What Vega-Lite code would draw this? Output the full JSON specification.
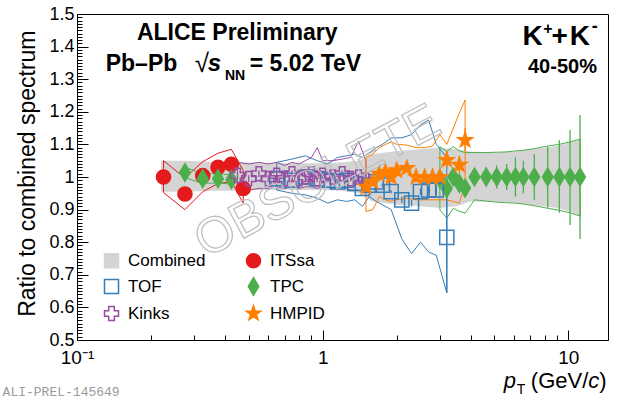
{
  "$schema": "https://vega.github.io/schema/vega-lite/v6.json",
  "width": 531,
  "height": 326,
  "autosize": "none",
  "padding": {"left": 77, "top": 14, "right": 15, "bottom": 63},
  "background": "white",
  "data": {"values": [{}]},
  "datasets": {
    "band": [
      {"pt": 0.22, "lo": 0.955, "hi": 1.05},
      {"pt": 0.27, "lo": 0.955, "hi": 1.05},
      {"pt": 0.35, "lo": 0.958, "hi": 1.047},
      {"pt": 0.45, "lo": 0.958, "hi": 1.045},
      {"pt": 0.6, "lo": 0.96, "hi": 1.043},
      {"pt": 0.8, "lo": 0.96, "hi": 1.042},
      {"pt": 1.0, "lo": 0.96, "hi": 1.042},
      {"pt": 1.2, "lo": 0.958, "hi": 1.045},
      {"pt": 1.4, "lo": 0.95, "hi": 1.05},
      {"pt": 1.6, "lo": 0.925, "hi": 1.07},
      {"pt": 2.0, "lo": 0.915, "hi": 1.08},
      {"pt": 2.5, "lo": 0.91, "hi": 1.085},
      {"pt": 3.0, "lo": 0.905, "hi": 1.09},
      {"pt": 3.5, "lo": 0.91, "hi": 1.085},
      {"pt": 4.0, "lo": 0.925, "hi": 1.078},
      {"pt": 5.0, "lo": 0.925, "hi": 1.075},
      {"pt": 6.0, "lo": 0.92, "hi": 1.078},
      {"pt": 7.0, "lo": 0.915, "hi": 1.085},
      {"pt": 8.0, "lo": 0.91, "hi": 1.09},
      {"pt": 9.0, "lo": 0.905, "hi": 1.095},
      {"pt": 10.0, "lo": 0.895, "hi": 1.105},
      {"pt": 11.2, "lo": 0.88, "hi": 1.116}
    ],
    "meas": [
      {"det": "ITSsa", "seg": "its", "pt": 0.225, "r": 1.0, "slo": 0.952, "shi": 1.05, "elo": 0.994, "ehi": 1.006},
      {"det": "ITSsa", "seg": "its", "pt": 0.275, "r": 0.948, "slo": 0.9, "shi": 0.997, "elo": 0.942, "ehi": 0.954},
      {"det": "ITSsa", "seg": "its", "pt": 0.325, "r": 1.004, "slo": 0.955, "shi": 1.047, "elo": 0.998, "ehi": 1.01},
      {"det": "ITSsa", "seg": "its", "pt": 0.375, "r": 1.03, "slo": 0.98, "shi": 1.073, "elo": 1.024, "ehi": 1.036},
      {"det": "ITSsa", "seg": "its", "pt": 0.425, "r": 1.039, "slo": 0.986, "shi": 1.085, "elo": 1.033, "ehi": 1.045},
      {"det": "ITSsa", "seg": "its", "pt": 0.475, "r": 0.965, "slo": 0.92, "shi": 1.02, "elo": 0.958, "ehi": 0.972},
      {"det": "TPC", "seg": "tpclo", "pt": 0.275, "r": 1.014, "slo": 0.998, "shi": 1.03, "elo": 1.01, "ehi": 1.018},
      {"det": "TPC", "seg": "tpclo", "pt": 0.325, "r": 0.995, "slo": 0.98, "shi": 1.01, "elo": 0.991, "ehi": 0.999},
      {"det": "TPC", "seg": "tpclo", "pt": 0.375, "r": 0.995, "slo": 0.982, "shi": 1.01, "elo": 0.991, "ehi": 0.999},
      {"det": "TPC", "seg": "tpclo", "pt": 0.425, "r": 0.992, "slo": 0.978, "shi": 1.006, "elo": 0.988, "ehi": 0.996},
      {"det": "TPC", "seg": "tpchi", "pt": 3.0, "r": 0.995, "slo": 0.899, "shi": 1.093, "elo": 0.98, "ehi": 1.01},
      {"det": "TPC", "seg": "tpchi", "pt": 3.2, "r": 0.965, "slo": 0.874, "shi": 1.078, "elo": 0.95, "ehi": 0.98},
      {"det": "TPC", "seg": "tpchi", "pt": 3.4, "r": 1.0, "slo": 0.904, "shi": 1.093, "elo": 0.985, "ehi": 1.015},
      {"det": "TPC", "seg": "tpchi", "pt": 3.6, "r": 0.98, "slo": 0.895, "shi": 1.08, "elo": 0.965, "ehi": 0.995},
      {"det": "TPC", "seg": "tpchi", "pt": 3.8, "r": 0.966, "slo": 0.889, "shi": 1.075, "elo": 0.95, "ehi": 0.982},
      {"det": "TPC", "seg": "tpchi", "pt": 4.15, "r": 1.0, "slo": 0.93, "shi": 1.075, "elo": 0.98, "ehi": 1.02},
      {"det": "TPC", "seg": "tpchi", "pt": 4.63, "r": 1.0, "slo": 0.926, "shi": 1.075, "elo": 0.97, "ehi": 1.03},
      {"det": "TPC", "seg": "tpchi", "pt": 5.11, "r": 1.0, "slo": 0.923, "shi": 1.076, "elo": 0.965, "ehi": 1.035},
      {"det": "TPC", "seg": "tpchi", "pt": 5.61, "r": 1.0, "slo": 0.921, "shi": 1.077, "elo": 0.96, "ehi": 1.04},
      {"det": "TPC", "seg": "tpchi", "pt": 6.09, "r": 1.0, "slo": 0.92, "shi": 1.08, "elo": 0.94, "ehi": 1.06},
      {"det": "TPC", "seg": "tpchi", "pt": 6.56, "r": 1.0, "slo": 0.917, "shi": 1.082, "elo": 0.95, "ehi": 1.05},
      {"det": "TPC", "seg": "tpchi", "pt": 7.27, "r": 1.0, "slo": 0.912, "shi": 1.087, "elo": 0.93, "ehi": 1.07},
      {"det": "TPC", "seg": "tpchi", "pt": 8.24, "r": 1.0, "slo": 0.904, "shi": 1.095, "elo": 0.905, "ehi": 1.093},
      {"det": "TPC", "seg": "tpchi", "pt": 9.19, "r": 1.0, "slo": 0.898, "shi": 1.1, "elo": 0.89, "ehi": 1.113},
      {"det": "TPC", "seg": "tpchi", "pt": 10.16, "r": 1.0, "slo": 0.89, "shi": 1.108, "elo": 0.853, "ehi": 1.144},
      {"det": "TPC", "seg": "tpchi", "pt": 11.16, "r": 1.0, "slo": 0.88, "shi": 1.116, "elo": 0.81, "ehi": 1.19},
      {"det": "TOF", "seg": "tof", "pt": 0.65, "r": 0.995, "slo": 0.96, "shi": 1.045, "elo": 0.99, "ehi": 1.0},
      {"det": "TOF", "seg": "tof", "pt": 0.75, "r": 0.99, "slo": 0.95, "shi": 1.055, "elo": 0.985, "ehi": 0.995},
      {"det": "TOF", "seg": "tof", "pt": 0.85, "r": 1.0, "slo": 0.945, "shi": 1.065, "elo": 0.995, "ehi": 1.005},
      {"det": "TOF", "seg": "tof", "pt": 0.95, "r": 0.995, "slo": 0.935, "shi": 1.05, "elo": 0.99, "ehi": 1.0},
      {"det": "TOF", "seg": "tof", "pt": 1.05, "r": 0.99, "slo": 0.92, "shi": 1.04, "elo": 0.985, "ehi": 0.995},
      {"det": "TOF", "seg": "tof", "pt": 1.15, "r": 0.985, "slo": 0.93, "shi": 1.06, "elo": 0.98, "ehi": 0.99},
      {"det": "TOF", "seg": "tof", "pt": 1.25, "r": 0.99, "slo": 0.925, "shi": 1.065, "elo": 0.985, "ehi": 0.995},
      {"det": "TOF", "seg": "tof", "pt": 1.35, "r": 0.98, "slo": 0.93, "shi": 1.07, "elo": 0.975, "ehi": 0.985},
      {"det": "TOF", "seg": "tof", "pt": 1.45, "r": 0.965, "slo": 0.91, "shi": 1.06, "elo": 0.96, "ehi": 0.97},
      {"det": "TOF", "seg": "tof", "pt": 1.55, "r": 0.975, "slo": 0.94, "shi": 1.075, "elo": 0.97, "ehi": 0.98},
      {"det": "TOF", "seg": "tof", "pt": 1.65, "r": 0.985, "slo": 0.925, "shi": 1.09, "elo": 0.98, "ehi": 0.99},
      {"det": "TOF", "seg": "tof", "pt": 1.75, "r": 0.975, "slo": 0.915, "shi": 1.1, "elo": 0.97, "ehi": 0.98},
      {"det": "TOF", "seg": "tof", "pt": 1.9, "r": 0.955, "slo": 0.9, "shi": 1.12, "elo": 0.95, "ehi": 0.96},
      {"det": "TOF", "seg": "tof", "pt": 2.1, "r": 0.93, "slo": 0.81, "shi": 1.12, "elo": 0.92, "ehi": 0.94},
      {"det": "TOF", "seg": "tof", "pt": 2.3, "r": 0.92, "slo": 0.765, "shi": 1.13, "elo": 0.91, "ehi": 0.93},
      {"det": "TOF", "seg": "tof", "pt": 2.5, "r": 0.955, "slo": 0.8, "shi": 1.16, "elo": 0.945, "ehi": 0.965},
      {"det": "TOF", "seg": "tof", "pt": 2.7, "r": 0.96, "slo": 0.77, "shi": 1.175, "elo": 0.95, "ehi": 0.97},
      {"det": "TOF", "seg": "tof", "pt": 2.9, "r": 0.96, "slo": 0.76, "shi": 1.1, "elo": 0.945, "ehi": 0.975},
      {"det": "TOF", "seg": "tof", "pt": 3.2, "r": 0.815, "slo": 0.645, "shi": 1.06, "elo": 0.645, "ehi": 0.99},
      {"det": "Kinks", "seg": "kinks", "pt": 0.45, "r": 1.005, "slo": 0.965, "shi": 1.045, "elo": 0.995, "ehi": 1.015},
      {"det": "Kinks", "seg": "kinks", "pt": 0.5, "r": 0.995, "slo": 0.96, "shi": 1.04, "elo": 0.985, "ehi": 1.005},
      {"det": "Kinks", "seg": "kinks", "pt": 0.55, "r": 1.01, "slo": 0.965, "shi": 1.045, "elo": 1.0, "ehi": 1.02},
      {"det": "Kinks", "seg": "kinks", "pt": 0.6, "r": 0.995, "slo": 0.965, "shi": 1.04, "elo": 0.985, "ehi": 1.005},
      {"det": "Kinks", "seg": "kinks", "pt": 0.65, "r": 1.005, "slo": 0.97, "shi": 1.045, "elo": 0.995, "ehi": 1.015},
      {"det": "Kinks", "seg": "kinks", "pt": 0.7, "r": 0.995, "slo": 0.965, "shi": 1.035, "elo": 0.985, "ehi": 1.005},
      {"det": "Kinks", "seg": "kinks", "pt": 0.75, "r": 1.01, "slo": 0.97, "shi": 1.045, "elo": 1.0, "ehi": 1.02},
      {"det": "Kinks", "seg": "kinks", "pt": 0.8, "r": 0.995, "slo": 0.965, "shi": 1.04, "elo": 0.985, "ehi": 1.005},
      {"det": "Kinks", "seg": "kinks", "pt": 0.85, "r": 1.0, "slo": 0.97, "shi": 1.05, "elo": 0.99, "ehi": 1.01},
      {"det": "Kinks", "seg": "kinks", "pt": 0.9, "r": 1.01, "slo": 0.97, "shi": 1.06, "elo": 1.0, "ehi": 1.02},
      {"det": "Kinks", "seg": "kinks", "pt": 0.95, "r": 0.995, "slo": 0.965, "shi": 1.09, "elo": 0.985, "ehi": 1.005},
      {"det": "Kinks", "seg": "kinks", "pt": 1.0, "r": 1.005, "slo": 0.97, "shi": 1.05, "elo": 0.995, "ehi": 1.015},
      {"det": "Kinks", "seg": "kinks", "pt": 1.1, "r": 1.0, "slo": 0.965, "shi": 1.05, "elo": 0.99, "ehi": 1.01},
      {"det": "Kinks", "seg": "kinks", "pt": 1.2, "r": 1.01, "slo": 0.97, "shi": 1.055, "elo": 1.0, "ehi": 1.02},
      {"det": "Kinks", "seg": "kinks", "pt": 1.3, "r": 0.995, "slo": 0.96, "shi": 1.06, "elo": 0.985, "ehi": 1.005},
      {"det": "Kinks", "seg": "kinks", "pt": 1.4, "r": 1.0, "slo": 0.96, "shi": 1.11, "elo": 0.99, "ehi": 1.01},
      {"det": "Kinks", "seg": "kinks", "pt": 1.5, "r": 0.99, "slo": 0.95, "shi": 1.05, "elo": 0.98, "ehi": 1.0},
      {"det": "HMPID", "seg": "hmpid", "pt": 1.5, "r": 0.97, "slo": 0.894, "shi": 1.06, "elo": 0.96, "ehi": 0.98},
      {"det": "HMPID", "seg": "hmpid", "pt": 1.6, "r": 0.985, "slo": 0.9, "shi": 1.07, "elo": 0.975, "ehi": 0.995},
      {"det": "HMPID", "seg": "hmpid", "pt": 1.7, "r": 1.01, "slo": 0.94, "shi": 1.09, "elo": 1.0, "ehi": 1.02},
      {"det": "HMPID", "seg": "hmpid", "pt": 1.8, "r": 1.015, "slo": 0.93, "shi": 1.1, "elo": 1.005, "ehi": 1.025},
      {"det": "HMPID", "seg": "hmpid", "pt": 1.9, "r": 1.0, "slo": 0.925, "shi": 1.108, "elo": 0.99, "ehi": 1.01},
      {"det": "HMPID", "seg": "hmpid", "pt": 2.0, "r": 1.02, "slo": 0.93, "shi": 1.1, "elo": 1.01, "ehi": 1.03},
      {"det": "HMPID", "seg": "hmpid", "pt": 2.2, "r": 1.027, "slo": 0.935, "shi": 1.098, "elo": 1.015, "ehi": 1.04},
      {"det": "HMPID", "seg": "hmpid", "pt": 2.4, "r": 1.0, "slo": 0.93, "shi": 1.09, "elo": 0.985, "ehi": 1.015},
      {"det": "HMPID", "seg": "hmpid", "pt": 2.6, "r": 1.0, "slo": 0.93, "shi": 1.09, "elo": 0.985, "ehi": 1.015},
      {"det": "HMPID", "seg": "hmpid", "pt": 2.8, "r": 1.0, "slo": 0.93, "shi": 1.095, "elo": 0.985, "ehi": 1.015},
      {"det": "HMPID", "seg": "hmpid", "pt": 3.0, "r": 1.0, "slo": 0.93, "shi": 1.13, "elo": 0.98, "ehi": 1.02},
      {"det": "HMPID", "seg": "hmpid", "pt": 3.2, "r": 1.052, "slo": 0.93, "shi": 1.1, "elo": 1.03, "ehi": 1.075},
      {"det": "HMPID", "seg": "hmpid", "pt": 3.6, "r": 1.037, "slo": 0.92, "shi": 1.196, "elo": 1.01, "ehi": 1.065},
      {"det": "HMPID", "seg": "hmpid", "pt": 3.8, "r": 1.113, "slo": 0.98, "shi": 1.236, "elo": 1.08, "ehi": 1.15}
    ]
  },
  "resolve": {"axis": {"x": "independent", "y": "independent"}},
  "layer": [
    {
      "data": {"name": "band"},
      "mark": {"type": "area", "color": "#d4d4d4", "opacity": 1},
      "encoding": {
        "x": {
          "field": "pt",
          "type": "quantitative",
          "scale": {"type": "log", "domain": [0.1, 14.5], "nice": false},
          "axis": {
            "title": null,
            "orient": "bottom",
            "values": [0.1, 0.2, 0.3, 0.4, 0.5, 0.6, 0.7, 0.8, 0.9, 1, 2, 3, 4, 5, 6, 7, 8, 9, 10],
            "labelExpr": "datum.value == 0.1 ? '10⁻¹' : datum.value == 1 ? '1' : datum.value == 10 ? '10' : ''",
            "tickSize": {"condition": {"test": "datum.value == 0.1 || datum.value == 1 || datum.value == 10", "value": -10}, "value": -5},
            "labelPadding": 18,
            "labelFontSize": 19,
            "labelOverlap": false,
            "labelFlush": false,
            "labelBound": false,
            "grid": false
          }
        },
        "y": {
          "field": "lo",
          "type": "quantitative",
          "scale": {"domain": [0.5, 1.5], "nice": false, "zero": false},
          "axis": {
            "title": "Ratio to combined spectrum",
            "orient": "left",
            "titleFontSize": 23,
            "titleFontWeight": "normal",
            "titleAnchor": "end",
            "titleX": -38,
            "titleY": 16,
            "values": [0.5, 0.51, 0.52, 0.53, 0.54, 0.55, 0.56, 0.57, 0.58, 0.59, 0.6, 0.61, 0.62, 0.63, 0.64, 0.65, 0.66, 0.67, 0.68, 0.69, 0.7, 0.71, 0.72, 0.73, 0.74, 0.75, 0.76, 0.77, 0.78, 0.79, 0.8, 0.81, 0.82, 0.83, 0.84, 0.85, 0.86, 0.87, 0.88, 0.89, 0.9, 0.91, 0.92, 0.93, 0.94, 0.95, 0.96, 0.97, 0.98, 0.99, 1, 1.01, 1.02, 1.03, 1.04, 1.05, 1.06, 1.07, 1.08, 1.09, 1.1, 1.11, 1.12, 1.13, 1.14, 1.15, 1.16, 1.17, 1.18, 1.19, 1.2, 1.21, 1.22, 1.23, 1.24, 1.25, 1.26, 1.27, 1.28, 1.29, 1.3, 1.31, 1.32, 1.33, 1.34, 1.35, 1.36, 1.37, 1.38, 1.39, 1.4, 1.41, 1.42, 1.43, 1.44, 1.45, 1.46, 1.47, 1.48, 1.49, 1.5],
            "labelExpr": "abs(datum.value * 10 - round(datum.value * 10)) < 0.001 ? format(datum.value, '~g') : ''",
            "tickSize": {"condition": {"test": "abs(datum.value * 10 - round(datum.value * 10)) < 0.001", "value": -11}, "value": -5},
            "labelPadding": 14,
            "labelFontSize": 18,
            "labelOverlap": false,
            "labelFlush": false,
            "labelBound": false,
            "grid": false
          }
        },
        "y2": {"field": "hi"}
      }
    },
    {
      "data": {"name": "meas"},
      "mark": {"type": "area", "filled": false, "strokeWidth": 1, "interpolate": "linear"},
      "encoding": {
        "x": {"field": "pt", "type": "quantitative", "axis": null},
        "y": {"field": "slo", "type": "quantitative", "axis": null},
        "y2": {"field": "shi"},
        "detail": {"field": "seg"},
        "color": {
          "field": "det",
          "type": "nominal",
          "legend": null,
          "scale": {
            "domain": ["ITSsa", "TOF", "TPC", "Kinks", "HMPID"],
            "range": ["#e41a1c", "#377eb8", "#4daf4a", "#984ea3", "#ff7f00"]
          }
        }
      }
    },
    {
      "data": {"name": "meas"},
      "mark": {"type": "rule", "strokeWidth": 1.3},
      "encoding": {
        "x": {"field": "pt", "type": "quantitative", "axis": null},
        "y": {"field": "elo", "type": "quantitative", "axis": null},
        "y2": {"field": "ehi"},
        "color": {
          "field": "det",
          "type": "nominal",
          "legend": null,
          "scale": {
            "domain": ["ITSsa", "TOF", "TPC", "Kinks", "HMPID"],
            "range": ["#e41a1c", "#377eb8", "#4daf4a", "#984ea3", "#ff7f00"]
          }
        }
      }
    },
    {
      "data": {"name": "meas"},
      "mark": {"type": "point", "filled": true, "opacity": 1, "size": 200, "strokeWidth": 1.5},
      "encoding": {
        "x": {"field": "pt", "type": "quantitative", "axis": null},
        "y": {"field": "r", "type": "quantitative", "axis": null},
        "shape": {
          "field": "det",
          "type": "nominal",
          "scale": {
            "domain": ["Combined", "TOF", "Kinks", "ITSsa", "TPC", "HMPID"],
            "range": ["square", "square", "cross", "circle", "M0,-1.25L0.75,0L0,1.25L-0.75,0Z", "M0,-1.1L0.259,-0.356L1.046,-0.34L0.418,0.136L0.647,0.89L0,0.44L-0.647,0.89L-0.418,0.136L-1.046,-0.34L-0.259,-0.356Z"]
          },
          "legend": {
            "title": null,
            "orient": "none",
            "legendX": 26,
            "legendY": 237,
            "columns": 2,
            "symbolSize": 196,
            "symbolStrokeWidth": 1.5,
            "labelFontSize": 17,
            "labelColor": "black",
            "labelOffset": 8,
            "rowPadding": 2,
            "columnPadding": 37,
            "gridAlign": "all",
            "padding": 0,
            "labelLimit": 200
          }
        },
        "fill": {
          "field": "det",
          "type": "nominal",
          "scale": {
            "domain": ["Combined", "TOF", "Kinks", "ITSsa", "TPC", "HMPID"],
            "range": ["#d4d4d4", "transparent", "transparent", "#e41a1c", "#4daf4a", "#ff7f00"]
          }
        },
        "stroke": {
          "field": "det",
          "type": "nominal",
          "scale": {
            "domain": ["Combined", "TOF", "Kinks", "ITSsa", "TPC", "HMPID"],
            "range": ["#d4d4d4", "#377eb8", "#984ea3", "#e41a1c", "#4daf4a", "#ff7f00"]
          }
        }
      }
    },
    {
      "mark": {"type": "text", "text": "OBSOLETE", "fontSize": 50, "angle": -28, "align": "center", "baseline": "middle", "fillOpacity": 0, "stroke": "#bdbdbd", "strokeWidth": 1.2},
      "encoding": {"x": {"datum": 0.955, "type": "quantitative", "axis": null}, "y": {"datum": 0.985, "type": "quantitative", "axis": null}}
    },
    {
      "mark": {"type": "text", "text": "ALICE Preliminary", "fontSize": 23, "fontWeight": "bold", "align": "center", "baseline": "alphabetic"},
      "encoding": {"x": {"datum": 0.449, "type": "quantitative", "axis": null}, "y": {"datum": 1.4202, "type": "quantitative", "axis": null}}
    },
    {
      "mark": {"type": "text", "text": "Pb–Pb", "fontSize": 23, "fontWeight": "bold", "align": "left", "baseline": "alphabetic"},
      "encoding": {"x": {"datum": 0.1309, "type": "quantitative", "axis": null}, "y": {"datum": 1.3252, "type": "quantitative", "axis": null}}
    },
    {
      "mark": {"type": "text", "text": "√", "fontSize": 26, "align": "left", "baseline": "alphabetic"},
      "encoding": {"x": {"datum": 0.3013, "type": "quantitative", "axis": null}, "y": {"datum": 1.322, "type": "quantitative", "axis": null}}
    },
    {
      "mark": {"type": "text", "text": "s", "fontSize": 24, "fontWeight": "bold", "fontStyle": "italic", "align": "left", "baseline": "alphabetic"},
      "encoding": {"x": {"datum": 0.3405, "type": "quantitative", "axis": null}, "y": {"datum": 1.3252, "type": "quantitative", "axis": null}}
    },
    {
      "mark": {"type": "text", "text": "NN", "fontSize": 14, "fontWeight": "bold", "align": "left", "baseline": "alphabetic"},
      "encoding": {"x": {"datum": 0.4, "type": "quantitative", "axis": null}, "y": {"datum": 1.2975, "type": "quantitative", "axis": null}}
    },
    {
      "mark": {"type": "text", "text": "= 5.02 TeV", "fontSize": 23, "fontWeight": "bold", "align": "left", "baseline": "alphabetic"},
      "encoding": {"x": {"datum": 0.5048, "type": "quantitative", "axis": null}, "y": {"datum": 1.3252, "type": "quantitative", "axis": null}}
    },
    {
      "mark": {"type": "text", "text": "K", "fontSize": 28, "fontWeight": "bold", "align": "left", "baseline": "alphabetic"},
      "encoding": {"x": {"datum": 6.509, "type": "quantitative", "axis": null}, "y": {"datum": 1.4049, "type": "quantitative", "axis": null}}
    },
    {
      "mark": {"type": "text", "text": "+", "fontSize": 16, "fontWeight": "bold", "align": "left", "baseline": "alphabetic"},
      "encoding": {"x": {"datum": 7.897, "type": "quantitative", "axis": null}, "y": {"datum": 1.4393, "type": "quantitative", "axis": null}}
    },
    {
      "mark": {"type": "text", "text": "+", "fontSize": 28, "fontWeight": "bold", "align": "left", "baseline": "alphabetic"},
      "encoding": {"x": {"datum": 8.543, "type": "quantitative", "axis": null}, "y": {"datum": 1.4049, "type": "quantitative", "axis": null}}
    },
    {
      "mark": {"type": "text", "text": "K", "fontSize": 28, "fontWeight": "bold", "align": "left", "baseline": "alphabetic"},
      "encoding": {"x": {"datum": 10.14, "type": "quantitative", "axis": null}, "y": {"datum": 1.4049, "type": "quantitative", "axis": null}}
    },
    {
      "mark": {"type": "text", "text": "-", "fontSize": 18, "fontWeight": "bold", "align": "left", "baseline": "alphabetic"},
      "encoding": {"x": {"datum": 12.46, "type": "quantitative", "axis": null}, "y": {"datum": 1.4436, "type": "quantitative", "axis": null}}
    },
    {
      "mark": {"type": "text", "text": "40-50%", "fontSize": 20, "fontWeight": "bold", "align": "right", "baseline": "alphabetic"},
      "encoding": {"x": {"datum": 13.07, "type": "quantitative", "axis": null}, "y": {"datum": 1.319, "type": "quantitative", "axis": null}}
    },
    {
      "mark": {"type": "text", "text": "p", "fontSize": 22, "fontStyle": "italic", "align": "left", "baseline": "alphabetic", "dy": 48},
      "encoding": {"x": {"datum": 5.463, "type": "quantitative", "axis": null}, "y": {"datum": 0.5, "type": "quantitative", "axis": null}}
    },
    {
      "mark": {"type": "text", "text": "T", "fontSize": 14, "align": "left", "baseline": "alphabetic", "dy": 54},
      "encoding": {"x": {"datum": 6.17, "type": "quantitative", "axis": null}, "y": {"datum": 0.5, "type": "quantitative", "axis": null}}
    },
    {
      "mark": {"type": "text", "text": "(GeV/", "fontSize": 22, "align": "left", "baseline": "alphabetic", "dy": 48},
      "encoding": {"x": {"datum": 7.037, "type": "quantitative", "axis": null}, "y": {"datum": 0.5, "type": "quantitative", "axis": null}}
    },
    {
      "mark": {"type": "text", "text": "c", "fontSize": 22, "fontStyle": "italic", "align": "left", "baseline": "alphabetic", "dy": 48},
      "encoding": {"x": {"datum": 12.06, "type": "quantitative", "axis": null}, "y": {"datum": 0.5, "type": "quantitative", "axis": null}}
    },
    {
      "mark": {"type": "text", "text": ")", "fontSize": 22, "align": "left", "baseline": "alphabetic", "dy": 48},
      "encoding": {"x": {"datum": 13.37, "type": "quantitative", "axis": null}, "y": {"datum": 0.5, "type": "quantitative", "axis": null}}
    },
    {
      "mark": {"type": "text", "text": "ALI-PREL-145649", "font": "Liberation Mono", "fontSize": 13, "color": "#9a9a9a", "align": "left", "baseline": "alphabetic", "dy": 56},
      "encoding": {"x": {"datum": 0.0498, "type": "quantitative", "axis": null}, "y": {"datum": 0.5, "type": "quantitative", "axis": null}}
    }
  ],
  "config": {
    "font": "Liberation Sans",
    "view": {"stroke": "black", "strokeWidth": 1},
    "text": {"color": "black", "font": "Liberation Sans"},
    "axis": {
      "domainColor": "black",
      "tickColor": "black",
      "labelColor": "black",
      "titleColor": "black",
      "labelFont": "Liberation Sans",
      "titleFont": "Liberation Sans"
    },
    "legend": {"labelFont": "Liberation Sans"}
  }
}
